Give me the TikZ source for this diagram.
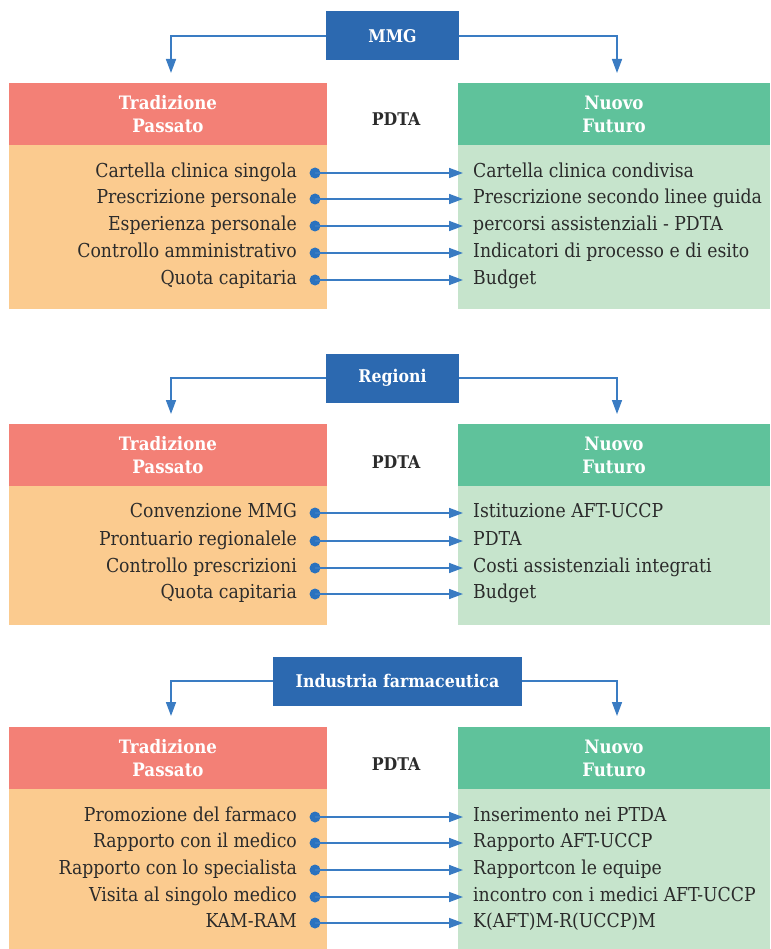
\documentclass[tikz,border=0pt]{standalone}
\usepackage{fontspec}
\setmainfont{DejaVu Serif Condensed}
\usetikzlibrary{arrows.meta}
\definecolor{hdrblue}{HTML}{2C69B0}
\definecolor{linkblue}{HTML}{3A7CC3}
\definecolor{dotblue}{HTML}{2A72BF}
\definecolor{pinkhdr}{HTML}{F38076}
\definecolor{orangebody}{HTML}{FBCB8F}
\definecolor{greenhdr}{HTML}{5FC29B}
\definecolor{greenbody}{HTML}{C6E4CC}
\definecolor{txt}{HTML}{2B2B2B}
\tikzset{
  topbox/.style={fill=hdrblue, text=white, font=\bfseries\fontsize{17.5}{20}\selectfont, minimum height=49pt, inner sep=0pt},
  hdrbox/.style={minimum width=#1, minimum height=62pt, inner sep=0pt, text=white, align=center, font=\bfseries\fontsize{18.5}{23}\selectfont},
  bodybox/.style={inner sep=0pt},
  pdta/.style={text=txt, font=\bfseries\fontsize{17.5}{20}\selectfont},
  lefttxt/.style={anchor=east, inner sep=0pt, text=txt, text height=13pt, text depth=4pt, font=\fontsize{19.2}{22}\selectfont},
  righttxt/.style={anchor=west, inner sep=0pt, text=txt, text height=13pt, text depth=4pt, font=\fontsize{19.2}{22}\selectfont},
  dot/.style={circle, fill=dotblue, minimum size=11pt, inner sep=0pt},
  link/.style={draw=linkblue, line width=1.6pt, -{Triangle[length=14pt,width=10pt]}}
}
\begin{document}
\begin{tikzpicture}[x=1pt,y=-1pt]
\useasboundingbox (0,0) rectangle (770,949);

% ---------- Section 1: MMG ----------
\node[hdrbox=318pt, fill=pinkhdr] (h1l) at (168,114) {Tradizione\\Passato};
\node[hdrbox=312pt, fill=greenhdr] (h1r) at (614,114) {Nuovo\\Futuro};
\node[bodybox, fill=orangebody, minimum width=318pt, minimum height=164pt] (b1l) at (168,227) {};
\node[bodybox, fill=greenbody, minimum width=312pt, minimum height=164pt] (b1r) at (614,227) {};
\node[pdta] (p1) at (396,119) {PDTA};
\node[topbox, minimum width=133pt] (mmg) at (392.5,36) {MMG};
\coordinate (a1l) at (171,73);
\coordinate (a1r) at (617,73);
\draw[link] (mmg.west) -| (a1l);
\draw[link] (mmg.east) -| (a1r);

\foreach \i/\y/\lt/\rt in {1/173/Cartella clinica singola/Cartella clinica condivisa,
                           2/199/Prescrizione personale/Prescrizione secondo linee guida,
                           3/226/Esperienza personale/percorsi assistenziali - PDTA,
                           4/253/Controllo amministrativo/Indicatori di processo e di esito,
                           5/280/Quota capitaria/Budget}{
  \node[lefttxt] (s1l\i) at (297,\y) {\lt};
  \node[righttxt] (s1r\i) at (473,\y) {\rt};
  \node[dot] (s1d\i) at (315,\y) {};
  \coordinate (s1t\i) at (463,\y);
  \draw[link] (s1d\i.center) -- (s1t\i);
}

% ---------- Section 2: Regioni ----------
\node[hdrbox=318pt, fill=pinkhdr] (h2l) at (168,455) {Tradizione\\Passato};
\node[hdrbox=312pt, fill=greenhdr] (h2r) at (614,455) {Nuovo\\Futuro};
\node[bodybox, fill=orangebody, minimum width=318pt, minimum height=139pt] (b2l) at (168,555.5) {};
\node[bodybox, fill=greenbody, minimum width=312pt, minimum height=139pt] (b2r) at (614,555.5) {};
\node[pdta] (p2) at (396,462) {PDTA};
\node[topbox, minimum width=133pt] (reg) at (392.5,378) {Regioni};
\coordinate (a2l) at (171,414);
\coordinate (a2r) at (617,414);
\draw[link] (reg.west) -| (a2l);
\draw[link] (reg.east) -| (a2r);

\foreach \i/\y/\lt/\rt in {1/513/Convenzione MMG/Istituzione AFT-UCCP,
                           2/541/Prontuario regionalele/PDTA,
                           3/568/Controllo prescrizioni/Costi assistenziali integrati,
                           4/594/Quota capitaria/Budget}{
  \node[lefttxt] (s2l\i) at (297,\y) {\lt};
  \node[righttxt] (s2r\i) at (473,\y) {\rt};
  \node[dot] (s2d\i) at (315,\y) {};
  \coordinate (s2t\i) at (463,\y);
  \draw[link] (s2d\i.center) -- (s2t\i);
}

% ---------- Section 3: Industria farmaceutica ----------
\node[hdrbox=318pt, fill=pinkhdr] (h3l) at (168,758) {Tradizione\\Passato};
\node[hdrbox=312pt, fill=greenhdr] (h3r) at (614,758) {Nuovo\\Futuro};
\node[bodybox, fill=orangebody, minimum width=318pt, minimum height=160pt] (b3l) at (168,869) {};
\node[bodybox, fill=greenbody, minimum width=312pt, minimum height=160pt] (b3r) at (614,869) {};
\node[pdta] (p3) at (396,764) {PDTA};
\node[topbox, minimum width=249pt] (ind) at (397.5,681) {Industria farmaceutica};
\coordinate (a3l) at (171,716);
\coordinate (a3r) at (617,716);
\draw[link] (ind.west) -| (a3l);
\draw[link] (ind.east) -| (a3r);

\foreach \i/\y/\lt/\rt in {1/817/Promozione del farmaco/Inserimento nei PTDA,
                           2/843/Rapporto con il medico/Rapporto AFT-UCCP,
                           3/870/Rapporto con lo specialista/Rapportcon le equipe,
                           4/897/Visita al singolo medico/incontro con i medici AFT-UCCP,
                           5/923/KAM-RAM/K(AFT)M-R(UCCP)M}{
  \node[lefttxt] (s3l\i) at (297,\y) {\lt};
  \node[righttxt] (s3r\i) at (473,\y) {\rt};
  \node[dot] (s3d\i) at (315,\y) {};
  \coordinate (s3t\i) at (463,\y);
  \draw[link] (s3d\i.center) -- (s3t\i);
}
\end{tikzpicture}
\end{document}
